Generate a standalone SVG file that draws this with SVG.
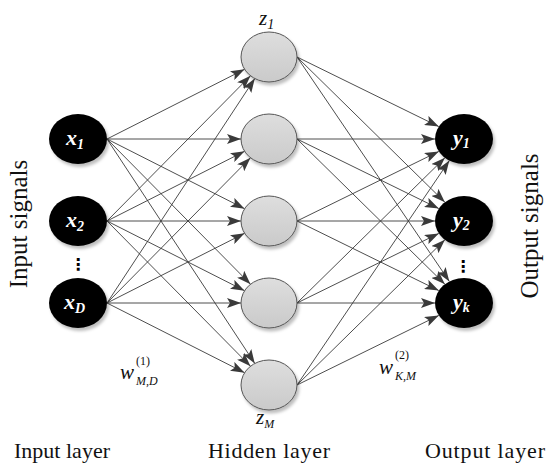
<svg xmlns="http://www.w3.org/2000/svg" width="550" height="469" viewBox="0 0 550 469">
<defs>
<marker id="arr" markerUnits="userSpaceOnUse" markerWidth="14" markerHeight="10" viewBox="0 0 14 10" refX="14" refY="5" orient="auto">
<path d="M0,0 L14,5 L0,10 L3,5 Z" fill="#3a3a3a"/>
</marker>
<filter id="sh" x="-30%" y="-30%" width="160%" height="160%">
<feDropShadow dx="2" dy="3" stdDeviation="1.5" flood-color="#000" flood-opacity="0.25"/>
</filter>
<linearGradient id="hg" x1="0" y1="0" x2="0" y2="1">
<stop offset="0" stop-color="#dedede"/>
<stop offset="1" stop-color="#cacaca"/>
</linearGradient>
</defs>
<style>
.e{stroke:#3a3a3a;stroke-width:0.9;fill:none;marker-end:url(#arr)}
.io{fill:#000;filter:url(#sh)}
.hid{fill:url(#hg);stroke:#555;stroke-width:1;filter:url(#sh)}
.nl{font-family:"Liberation Serif","DejaVu Serif",serif;font-style:italic;font-weight:bold;font-size:22px;fill:#fff}
.ns{font-size:14px}
.ml{font-family:"Liberation Serif","DejaVu Serif",serif;font-style:italic;font-size:21px;fill:#111}
.sm{font-size:12px;font-style:normal}
.ss{font-size:12px}
.lab{font-family:"Liberation Serif","DejaVu Serif",serif;font-size:22px;fill:#111}
.vl{font-family:"Liberation Serif","DejaVu Serif",serif;font-size:25px;fill:#111}
</style>
<rect width="550" height="469" fill="#fff"/>
<g id="connectors">
<path class="e" d="M107,139 L244.6,69.3"/>
<path class="e" d="M107,139 L241,139"/>
<path class="e" d="M107,139 L244.6,208.7"/>
<path class="e" d="M107,139 L250.5,284.25"/>
<path class="e" d="M107,139 L254.8,363.45"/>
<path class="e" d="M107,221 L250.5,75.75"/>
<path class="e" d="M107,221 L244.6,151.3"/>
<path class="e" d="M107,221 L241,221"/>
<path class="e" d="M107,221 L244.6,290.7"/>
<path class="e" d="M107,221 L250.5,366.25"/>
<path class="e" d="M107,303 L254.8,78.55"/>
<path class="e" d="M107,303 L250.5,157.75"/>
<path class="e" d="M107,303 L244.6,233.3"/>
<path class="e" d="M107,303 L241,303"/>
<path class="e" d="M107,303 L244.6,372.7"/>
<path class="e" d="M297,57 L438.8,126.6"/>
<path class="e" d="M297,57 L444.9,202.2"/>
<path class="e" d="M297,57 L449.35,281.4"/>
<path class="e" d="M297,139 L435,139"/>
<path class="e" d="M297,139 L438.8,208.6"/>
<path class="e" d="M297,139 L444.9,284.2"/>
<path class="e" d="M297,221 L438.8,151.4"/>
<path class="e" d="M297,221 L435,221"/>
<path class="e" d="M297,221 L438.8,290.6"/>
<path class="e" d="M297,303 L444.9,157.8"/>
<path class="e" d="M297,303 L438.8,233.4"/>
<path class="e" d="M297,303 L435,303"/>
<path class="e" d="M297,385 L449.35,160.6"/>
<path class="e" d="M297,385 L444.9,239.8"/>
<path class="e" d="M297,385 L438.8,315.4"/>
</g>
<g id="x1"><ellipse class="io" cx="78" cy="139" rx="29" ry="25"/><text class="nl" x="66" y="145">x<tspan class="ns" dy="4">1</tspan></text></g>
<g id="x2"><ellipse class="io" cx="78" cy="221" rx="29" ry="25"/><text class="nl" x="66" y="227">x<tspan class="ns" dy="4">2</tspan></text></g>
<g id="xD"><ellipse class="io" cx="78" cy="303" rx="29" ry="25"/><text class="nl" x="64" y="309">x<tspan class="ns" dy="4">D</tspan></text></g>
<g id="z1"><ellipse class="hid" cx="269" cy="57" rx="28" ry="25"/></g>
<g id="z2"><ellipse class="hid" cx="269" cy="139" rx="28" ry="25"/></g>
<g id="z3"><ellipse class="hid" cx="269" cy="221" rx="28" ry="25"/></g>
<g id="z4"><ellipse class="hid" cx="269" cy="303" rx="28" ry="25"/></g>
<g id="zM"><ellipse class="hid" cx="269" cy="385" rx="28" ry="25"/></g>
<g id="y1"><ellipse class="io" cx="464" cy="139" rx="29" ry="25"/><text class="nl" x="453" y="145">y<tspan class="ns" dy="3">1</tspan></text></g>
<g id="y2"><ellipse class="io" cx="464" cy="221" rx="29" ry="25"/><text class="nl" x="453" y="227">y<tspan class="ns" dy="3">2</tspan></text></g>
<g id="yk"><ellipse class="io" cx="464" cy="303" rx="29" ry="25"/><text class="nl" x="453" y="309">y<tspan class="ns" dy="3">k</tspan></text></g>
<g id="labels">
<text class="ml" x="259" y="25">z<tspan class="ns" dy="4">1</tspan></text>
<text class="ml" x="256" y="424">z<tspan class="ss" dy="4">M</tspan></text>
<text class="ml" x="120" y="379">w</text>
<text class="ml sm" x="136" y="365">(1)</text>
<text class="ml ss" x="136" y="385">M,D</text>
<text class="ml" x="379" y="374">w</text>
<text class="ml sm" x="395" y="359">(2)</text>
<text class="ml ss" x="395" y="380">K,M</text>
<text x="78" y="270" font-family="DejaVu Sans,sans-serif" font-size="16" font-weight="bold" text-anchor="middle" fill="#000">⋮</text>
<text x="463" y="272" font-family="DejaVu Sans,sans-serif" font-size="16" font-weight="bold" text-anchor="middle" fill="#000">⋮</text>
<text class="vl" transform="translate(27,224) rotate(-90)" text-anchor="middle">Input signals</text>
<text class="vl" transform="translate(538,226) rotate(-90)" text-anchor="middle">Output signals</text>
<text class="lab" x="62" y="458" text-anchor="middle" textLength="96" lengthAdjust="spacing">Input layer</text>
<text class="lab" x="269" y="458" text-anchor="middle" textLength="122" lengthAdjust="spacing">Hidden layer</text>
<text class="lab" x="485" y="458" text-anchor="middle" textLength="120" lengthAdjust="spacing">Output layer</text>
</g>
</svg>
